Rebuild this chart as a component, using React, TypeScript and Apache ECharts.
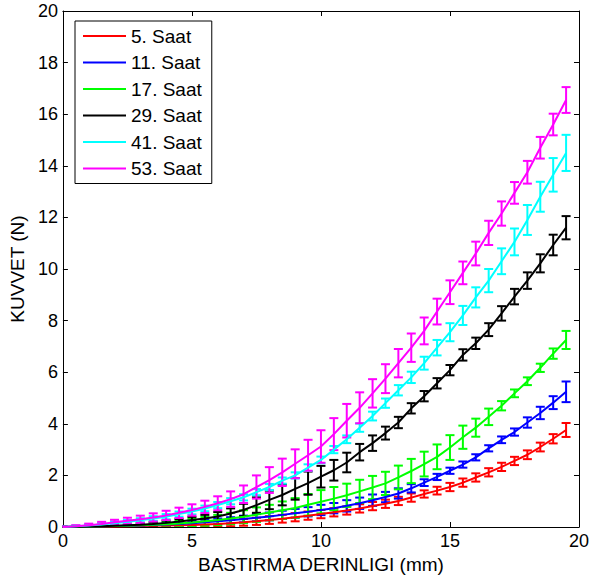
import React, { useEffect, useRef } from "react";
import * as echarts from "echarts";

const depths = [0,0.5,1,1.5,2,2.5,3,3.5,4,4.5,5,5.5,6,6.5,7,7.5,8,8.5,9,9.5,10,10.5,11,11.5,12,12.5,13,13.5,14,14.5,15,15.5,16,16.5,17,17.5,18,18.5,19,19.5];

const seriesNames = ["5. Saat", "11. Saat", "17. Saat", "29. Saat", "41. Saat", "53. Saat"];
const seriesColors = ["#ff0000", "#0000ff", "#00ff00", "#000000", "#00ffff", "#ff00ff"];

const red = [0,0.005,0.01,0.015,0.02,0.03,0.04,0.05,0.06,0.07,0.08,0.1,0.12,0.15,0.18,0.22,0.27,0.32,0.38,0.44,0.5,0.57,0.64,0.72,0.81,0.9,1.01,1.14,1.28,1.41,1.55,1.72,1.92,2.12,2.33,2.56,2.8,3.1,3.42,3.76];
const redErr = [0.01,0.02,0.02,0.03,0.03,0.04,0.05,0.06,0.07,0.08,0.09,0.1,0.11,0.12,0.13,0.14,0.15,0.15,0.16,0.16,0.16,0.16,0.16,0.16,0.16,0.16,0.16,0.16,0.14,0.15,0.16,0.16,0.16,0.16,0.16,0.16,0.17,0.17,0.18,0.27];

const blue = [0,0.01,0.02,0.03,0.04,0.05,0.06,0.08,0.1,0.12,0.15,0.18,0.22,0.26,0.31,0.36,0.41,0.47,0.53,0.59,0.66,0.73,0.82,0.92,1.04,1.16,1.3,1.5,1.72,1.94,2.18,2.42,2.7,3.05,3.38,3.68,4.05,4.42,4.82,5.24];
const blueErr = [0.01,0.02,0.02,0.03,0.03,0.04,0.05,0.06,0.07,0.08,0.09,0.1,0.11,0.12,0.13,0.14,0.15,0.16,0.17,0.18,0.2,0.2,0.22,0.22,0.22,0.2,0.2,0.16,0.13,0.12,0.12,0.12,0.12,0.12,0.13,0.14,0.2,0.24,0.25,0.4];

const green = [0,0.01,0.02,0.03,0.04,0.05,0.07,0.09,0.11,0.14,0.17,0.22,0.27,0.33,0.4,0.48,0.56,0.65,0.74,0.86,0.98,1.1,1.23,1.38,1.53,1.69,1.92,2.17,2.44,2.72,3.08,3.48,3.85,4.27,4.7,5.18,5.65,6.17,6.72,7.25];
const greenErr = [0.01,0.02,0.03,0.04,0.05,0.06,0.07,0.08,0.1,0.12,0.15,0.17,0.2,0.22,0.25,0.28,0.3,0.34,0.38,0.42,0.45,0.45,0.45,0.45,0.45,0.45,0.46,0.47,0.48,0.48,0.48,0.45,0.35,0.32,0.18,0.15,0.15,0.16,0.2,0.35];

const black = [0,0.01,0.02,0.03,0.05,0.07,0.09,0.12,0.16,0.21,0.27,0.33,0.41,0.52,0.66,0.85,1.05,1.24,1.48,1.7,1.95,2.2,2.5,2.9,3.25,3.64,4.05,4.6,5.07,5.57,6.08,6.67,7.12,7.65,8.28,8.93,9.55,10.22,10.93,11.6];
const blackErr = [0.01,0.02,0.03,0.04,0.05,0.06,0.07,0.08,0.09,0.1,0.12,0.14,0.17,0.2,0.24,0.3,0.36,0.4,0.42,0.45,0.42,0.4,0.38,0.32,0.3,0.25,0.22,0.2,0.2,0.2,0.2,0.22,0.22,0.25,0.28,0.3,0.32,0.35,0.4,0.45];

const cyan = [0,0.03,0.06,0.1,0.15,0.2,0.26,0.33,0.4,0.5,0.6,0.72,0.85,1.0,1.15,1.35,1.55,1.8,2.0,2.3,2.6,3.0,3.4,3.85,4.3,4.8,5.3,5.8,6.35,6.95,7.55,8.2,8.9,9.55,10.3,11.05,11.9,12.8,13.65,14.5];
const cyanErr = [0.02,0.03,0.04,0.05,0.06,0.07,0.08,0.09,0.1,0.1,0.11,0.11,0.12,0.12,0.12,0.12,0.12,0.12,0.12,0.13,0.13,0.14,0.15,0.16,0.17,0.18,0.2,0.22,0.25,0.3,0.35,0.37,0.39,0.45,0.5,0.52,0.58,0.58,0.65,0.7];

const magenta = [0,0.03,0.07,0.12,0.18,0.24,0.3,0.37,0.45,0.55,0.66,0.78,0.92,1.08,1.27,1.55,1.82,2.12,2.45,2.78,3.12,3.6,4.12,4.62,5.18,5.75,6.35,6.95,7.6,8.35,9.1,9.85,10.6,11.4,12.15,12.95,13.75,14.7,15.6,16.55];
const magentaErr = [0.02,0.04,0.06,0.08,0.1,0.12,0.14,0.16,0.18,0.2,0.22,0.24,0.27,0.3,0.34,0.45,0.5,0.53,0.56,0.6,0.63,0.62,0.65,0.6,0.55,0.56,0.55,0.55,0.52,0.5,0.46,0.44,0.46,0.47,0.47,0.42,0.44,0.42,0.42,0.5];

const xTicks = [0, 5, 10, 15, 20];
const yTicks = [0, 2, 4, 6, 8, 10, 12, 14, 16, 18, 20];

const means = [red, blue, green, black, cyan, magenta];
const errs = [redErr, blueErr, greenErr, blackErr, cyanErr, magentaErr];

const FONT = "'Liberation Sans', Arial, Helvetica, sans-serif";

export default function App() {
  const ref = useRef<HTMLDivElement>(null);
  useEffect(() => {
    if (!ref.current) return;
    const chart = echarts.init(ref.current, null, { renderer: "svg" });
    const series: any[] = [];
    seriesNames.forEach((name, i) => {
      const color = seriesColors[i];
      series.push({
        type: "custom",
        name: "err" + i,
        xAxisIndex: 0,
        yAxisIndex: 0,
        clip: true,
        data: depths.map((d, k) => [d, means[i][k], errs[i][k]]),
        renderItem: (params: any, api: any) => {
          const x = api.value(0);
          const y = api.value(1);
          const e = api.value(2);
          const hi = api.coord([x, y + e]);
          const lo = api.coord([x, y - e]);
          const hw = 4.5;
          const style = { stroke: color, lineWidth: 2, fill: null };
          return {
            type: "group",
            children: [
              { type: "line", shape: { x1: hi[0], y1: hi[1], x2: lo[0], y2: lo[1] }, style },
              { type: "line", shape: { x1: hi[0] - hw, y1: hi[1], x2: hi[0] + hw, y2: hi[1] }, style },
              { type: "line", shape: { x1: lo[0] - hw, y1: lo[1], x2: lo[0] + hw, y2: lo[1] }, style },
            ],
          };
        },
      });
      series.push({
        type: "line",
        name,
        xAxisIndex: 0,
        yAxisIndex: 0,
        data: depths.map((d, k) => [d, means[i][k]]),
        symbol: "none",
        lineStyle: { color, width: 2 },
        itemStyle: { color },
        color,
      });
    });

    const axisCommonX = {
      type: "value",
      min: xTicks[0],
      max: xTicks[xTicks.length - 1],
      interval: 5,
      splitLine: { show: false },
      axisLine: { show: true, onZero: false, lineStyle: { color: "#000", width: 1 } },
      axisTick: { show: true, inside: true, length: 5, lineStyle: { color: "#000" } },
    };
    const axisCommonY = {
      type: "value",
      min: yTicks[0],
      max: yTicks[yTicks.length - 1],
      interval: 2,
      splitLine: { show: false },
      axisLine: { show: true, onZero: false, lineStyle: { color: "#000", width: 1 } },
      axisTick: { show: true, inside: true, length: 5, lineStyle: { color: "#000" } },
    };

    chart.setOption({
      animation: false,
      backgroundColor: "#fff",
      grid: { left: 62, right: 13, top: 11, bottom: 55, containLabel: false },
      xAxis: [
        {
          ...axisCommonX,
          position: "bottom",
          name: "BASTIRMA DERINLIGI (mm)",
          nameLocation: "middle",
          nameGap: 28,
          nameTextStyle: { color: "#000", fontSize: 19, fontFamily: FONT },
          axisLabel: { show: true, color: "#000", fontSize: 18, fontFamily: FONT, margin: 5 },
        },
        {
          ...axisCommonX,
          position: "top",
          axisLabel: { show: false },
        },
      ],
      yAxis: [
        {
          ...axisCommonY,
          position: "left",
          name: "KUVVET (N)",
          nameLocation: "middle",
          nameGap: 35,
          nameRotate: 90,
          nameTextStyle: { color: "#000", fontSize: 19, fontFamily: FONT },
          axisLabel: { show: true, color: "#000", fontSize: 18, fontFamily: FONT, margin: 5 },
        },
        {
          ...axisCommonY,
          position: "right",
          axisLabel: { show: false },
        },
      ],
      legend: {
        data: seriesNames,
        orient: "vertical",
        left: 75,
        top: 21,
        padding: [5, 10, 5, 8],
        icon: "rect",
        itemWidth: 43,
        itemHeight: 2,
        itemGap: 6.5,
        backgroundColor: "#fff",
        borderColor: "#000",
        borderWidth: 1,
        borderRadius: 0,
        textStyle: { color: "#000", fontSize: 19, fontFamily: FONT, lineHeight: 20 },
      },
      series,
    });
    return () => chart.dispose();
  }, []);
  return (
    <div
      ref={ref}
      style={{ position: "fixed", left: 0, top: 0, width: 592, height: 582, background: "#fff" }}
    />
  );
}
